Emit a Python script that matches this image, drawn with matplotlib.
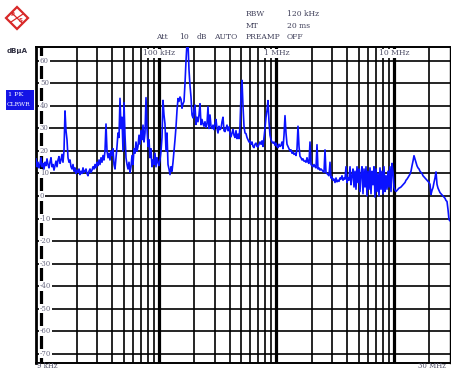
import numpy as np
import matplotlib
matplotlib.use('Agg')
import matplotlib.pyplot as plt
from matplotlib.patches import Polygon, Rectangle
from matplotlib.lines import Line2D
from matplotlib.transforms import blended_transform_factory

# ---- data ----
f_start_hz = 9e3
f_stop_hz = 30e6
# trace level in dBuA, one value per sweep point (log-spaced sweep from 9 kHz to 30 MHz)
levels_dbua = [
    16.5, 13, 15, 12.5, 14, 17, 13, 14.5, 12, 15,
    13.5, 16.5, 14, 12.5, 15, 17, 13, 14, 11.5, 13.5,
    15.5, 13, 16, 17.5, 14.5, 16, 18.5, 15, 20, 37.8,
    29, 25, 17, 15, 16, 13, 12, 14, 11, 12.5,
    10, 11.5, 10.5, 12, 9.5, 11, 10, 12.5, 10.5, 11,
    12, 10, 9, 11, 12, 10.5, 11.5, 13, 12, 14,
    12.5, 15, 13.5, 16, 14, 17, 15, 18, 16, 20,
    32, 20, 17, 19, 16, 20, 18, 21, 14, 12,
    17, 22, 28, 26, 43.4, 30, 35, 20, 41.5, 27,
    17, 14, 12, 15, 10.5, 13, 18, 14, 21, 19,
    24, 20, 22, 27, 23, 29, 25, 31.5, 24, 28,
    43.7, 30, 22, 25, 17, 21, 13, 16, 14, 19,
    13, 17, 15, 13.5, 16, 20, 26, 42.5, 36, 32,
    20, 28, 14, 12, 9.5, 13, 11, 15, 20, 25,
    30.7, 38, 43.3, 42, 44, 43, 39, 41, 42, 50,
    60, 68, 68, 56, 49, 44, 36, 34.7, 38, 40.4,
    31.8, 35, 33, 36, 41, 31.7, 34, 32, 31, 33,
    30.5, 32, 39.7, 30, 36, 31, 30, 31.5, 29.5, 32,
    34, 30, 28, 31, 29.5, 30, 33, 35, 29, 28.6,
    30, 31.5, 29, 30.7, 28, 26.3, 28, 29.5, 27, 26,
    29, 25.5, 27.5, 25.5, 31, 45, 51.4, 40, 31, 28,
    27.7, 26, 25, 24, 24.5, 23, 24, 22, 21.5, 23,
    23.5, 22, 21.8, 23, 24, 23, 24.5, 22, 26, 30,
    35, 38, 42.4, 33, 27, 25, 24, 23.5, 24, 22.5,
    23.5, 22, 21.5, 23, 22, 22.5, 24, 21, 27, 35.7,
    28, 23, 22, 21, 20, 20.5, 19, 19.5, 18.5, 19,
    18, 21, 31, 22, 17.6, 17, 16, 16.5, 15.5, 15.5,
    15, 17, 15, 14.5, 24, 14, 13.5, 13, 14, 13,
    12.5, 22.8, 12, 12.5, 11.5, 12, 11.5, 11, 10.5, 20.5,
    10.3, 10, 9.5, 9, 15, 8, 8.5, 7, 7.5, 6,
    8, 6.3, 7, 6.5, 8, 7.5, 9, 7, 8, 7.5,
    13, 6, 8, 7, 13, 5, 9, 12, 4, 11,
    3, 13, 6, 12, 2, 10, 13, 1, 12, 4,
    13, 0, 11, 3, 12.5, 1, 11, 5, 13, -0.5,
    12, 2, 10, 0, 12.5, 3, 11, 1, 13, 2,
    9, 3, 11, 4, 13, 2, 14.5, 10.7, 4, 2.6,
    2, 2.5, 3, 3.5, 3.7, 4, 4.5, 5, 5.5, 6,
    7, 7.5, 8.2, 9, 9.7, 11, 13.4, 15.5, 17.9, 16.4,
    15, 13.4, 12.5, 12, 11, 10.5, 10, 9, 8.5, 8,
    7.5, 7, 6.5, 6, 5.2, 0.7, 2.5, 3.7, 6, 8,
    10.7, 5.2, 3.5, 2.5, 1.5, 1, 0.5, 0, -0.5, -1,
    -2, -2.4, -6, -10.5, -11,
]
y_ticks = [60, 50, 40, 30, 20, 10, 0, -10, -20, -30, -40, -50, -60, -70]
decade_freqs = [1e5, 1e6, 1e7]
decade_labels = ['100 kHz', '1 MHz', '10 MHz']
header_left = ['RBW', 'MT']
header_right = ['120 kHz', '20 ms']
att_words = ['Att', '10', 'dB', 'AUTO', 'PREAMP', 'OFF']
unit_label = 'dB\u00b5A'
trace_label = ['1 PK', 'CLRWR']
start_label = '9 kHz'
stop_label = '30 MHz'

# ---- layout ----
W, H = 451, 370
fig = plt.figure(figsize=(W / 100, H / 100), dpi=100)
fig.patch.set_facecolor('white')


def px(x, y):
    return (x / W, 1 - y / H)


L, R, T, B = 36, 450, 47, 363
ax = fig.add_axes([L / W, (H - B) / H, (R - L) / W, (B - T) / H])
ax.set_xscale('log')
ax.set_xlim(f_start_hz, f_stop_hz)
ax.set_ylim(-74.2, 66.2)
ax.tick_params(which='both', length=0, labelbottom=False, labelleft=False)
for s in ax.spines.values():
    s.set_color('black')
ax.spines['left'].set_linewidth(2.0)
ax.spines['top'].set_linewidth(1.4)
ax.spines['bottom'].set_linewidth(1.4)
ax.spines['right'].set_linewidth(1.0)

# vertical grid (1..9 x decade)
for dec in [1e3, 1e4, 1e5, 1e6, 1e7]:
    for m in range(1, 10):
        f = m * dec
        if f_start_hz < f < f_stop_hz:
            ax.axvline(f, color='black', lw=2.3 if m == 1 else 1.2, zorder=1)
for v in y_ticks:
    ax.axhline(v, color='black', lw=1.2, zorder=1)

# y labels inside plot
tr = blended_transform_factory(ax.transAxes, ax.transData)
for v in y_ticks:
    ax.text(4 / (R - L), v, str(v), transform=tr, ha='left', va='center',
            fontsize=5, color='#6a6a82', family='DejaVu Serif', zorder=2,
            bbox=dict(facecolor='white', edgecolor='none', pad=0.4))

# decade labels at top
for f, lab in zip(decade_freqs, decade_labels):
    ax.text(f, 63.4, lab, ha='center', va='center', fontsize=5.5,
            color='#505068', family='DejaVu Serif', zorder=2,
            bbox=dict(facecolor='white', edgecolor='none', pad=0.4))

# trace
freqs = np.geomspace(f_start_hz, f_stop_hz, len(levels_dbua))
ax.plot(freqs, levels_dbua, color='#0a12ff', lw=1.2, zorder=3)

# header texts
txtkw = dict(fontsize=5.5, color='#40405a', family='DejaVu Serif', va='center', ha='left')
for i, (a, b) in enumerate(zip(header_left, header_right)):
    fig.text(*px(246, 14 + 11.5 * i), a, **txtkw)
    fig.text(*px(287, 14 + 11.5 * i), b, **txtkw)
for w_, x_ in zip(att_words, [156, 179, 197, 214, 246, 287]):
    fig.text(*px(x_, 37), w_, **txtkw)

fig.text(*px(7, 51), unit_label, fontsize=5, color='#333344', family='DejaVu Sans',
         weight='bold', va='center', ha='left')

# trace label box
fig.patches.append(Rectangle(px(6, 110), 28 / W, 20 / H, transform=fig.transFigure,
                             facecolor='#1414e6', edgecolor='none'))
fig.text(*px(8, 95), trace_label[0], fontsize=4.6, color='white', family='DejaVu Serif',
         va='center', ha='left')
fig.text(*px(7, 105), trace_label[1], fontsize=4.3, color='white', family='DejaVu Serif',
         va='center', ha='left')

# bottom labels
fig.text(*px(37, 366.5), start_label, fontsize=5, color='#505068', family='DejaVu Serif',
         va='center', ha='left')
fig.text(*px(446, 366.5), stop_label, fontsize=5, color='#505068', family='DejaVu Serif',
         va='center', ha='right')

# logo
red = '#d82828'
cx, cy, r = 17, 18, 11
fig.patches.append(Polygon([px(cx, cy - r), px(cx + r, cy), px(cx, cy + r), px(cx - r, cy)],
                           closed=True, transform=fig.transFigure, fill=False,
                           edgecolor=red, lw=1.6))
fig.lines.append(Line2D([px(cx - 5, cy - 5)[0], px(cx + 5, cy + 5)[0]],
                        [px(cx - 5, cy - 5)[1], px(cx + 5, cy + 5)[1]],
                        transform=fig.transFigure, color=red, lw=0.9))
fig.lines.append(Line2D([px(cx - 6, cy + 4)[0], px(cx + 6, cy - 4)[0]],
                        [px(cx - 6, cy + 4)[1], px(cx + 6, cy - 4)[1]],
                        transform=fig.transFigure, color=red, lw=0.9))
fig.text(*px(cx - 4, cy - 3), 'R', fontsize=4, color=red, ha='center', va='center', weight='bold')
fig.text(*px(cx + 4, cy + 3), 'S', fontsize=4, color=red, ha='center', va='center', weight='bold')

fig.savefig('out.png', dpi=100, facecolor='white')
